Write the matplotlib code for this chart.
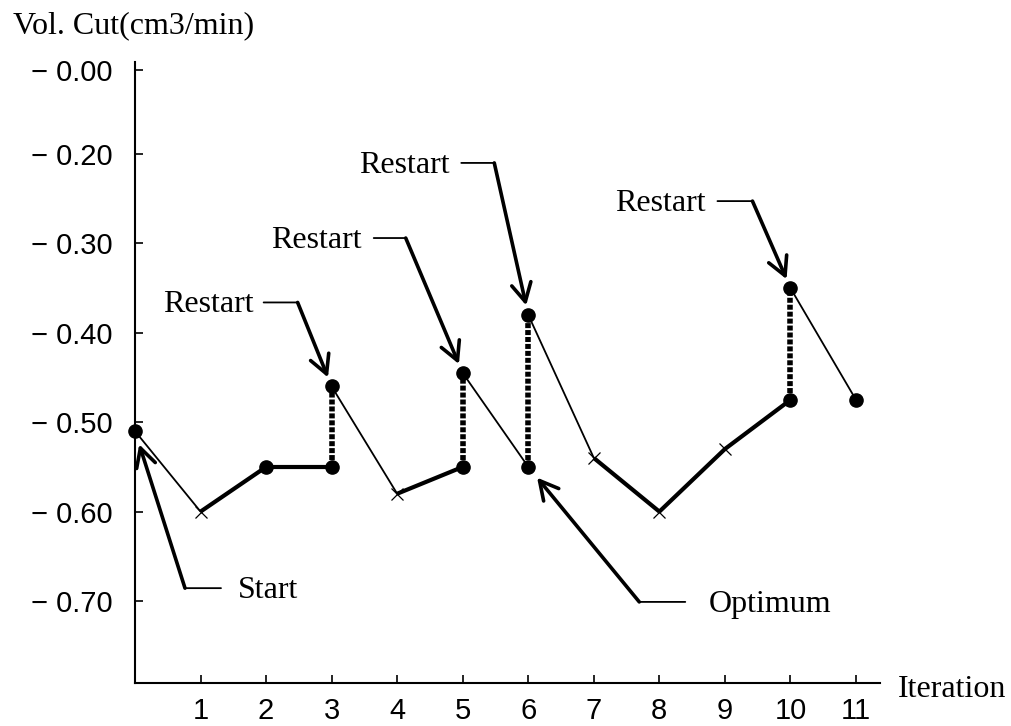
import matplotlib
matplotlib.use("Agg")
import matplotlib.pyplot as plt
import matplotlib.transforms as mtransforms

# ---------------- data ----------------
iterations = [0, 1, 2, 3, 3, 4, 5, 5, 6, 6, 7, 8, 9, 10, 10, 11]
vol_cut = [-0.51, -0.60, -0.55, -0.55, -0.46, -0.58, -0.55, -0.445,
           -0.55, -0.38, -0.54, -0.60, -0.53, -0.475, -0.35, -0.475]
point_kind = ['dot', 'cross', 'dot', 'dot', 'dot', 'cross', 'dot', 'dot',
              'dot', 'dot', 'cross', 'cross', 'cross', 'dot', 'dot', 'dot']
# step between consecutive points: search (thin), move (thick), restart (dotted jump)
step_kind = ['search', 'move', 'move', 'restart', 'search', 'move', 'restart',
             'search', 'restart', 'search', 'move', 'move', 'move', 'restart', 'search']

x_ticks = list(range(1, 12))
y_tick_values = [-0.106, -0.20, -0.30, -0.40, -0.50, -0.60, -0.70]
y_tick_labels = ['\u2212 0.00', '\u2212 0.20', '\u2212 0.30', '\u2212 0.40',
                 '\u2212 0.50', '\u2212 0.60', '\u2212 0.70']

# annotations: label, index of target point
annot_labels = ['Restart', 'Restart', 'Restart', 'Restart', 'Start', 'Optimum']
annot_targets = [4, 7, 9, 14, 0, 8]

# ---------------- figure ----------------
fig = plt.figure(figsize=(10.12, 7.26), dpi=100)
ax = fig.add_axes([135 / 1012, 1 - 683 / 726, (880 - 135) / 1012, (683 - 62) / 726])
ax.set_xlim(0, 11.366)
ax.set_ylim(-0.7917, -0.0971)

for s in ['top', 'right']:
    ax.spines[s].set_visible(False)
for s in ['left', 'bottom']:
    ax.spines[s].set_linewidth(1.5)

sans = ['Liberation Sans', 'DejaVu Sans']
serif = ['Liberation Serif', 'DejaVu Serif']

ax.set_xticks(x_ticks)
ax.set_xticklabels([str(t) for t in x_ticks], fontfamily=sans, fontsize=21)
ax.set_yticks(y_tick_values)
ax.set_yticklabels(y_tick_labels, fontfamily=sans, fontsize=21)
ax.tick_params(axis='x', direction='in', length=6, width=1.2, pad=10, colors='black')
ax.tick_params(axis='y', direction='in', length=6, width=1.2, pad=16, colors='black')

style = {
    'search': dict(color='black', lw=1.3, ls='-'),
    'move': dict(color='black', lw=3.0, ls='-'),
    'restart': dict(color='black', lw=4.0, ls=(0, (0.9, 0.35))),
}
for i, kind in enumerate(step_kind):
    ax.plot(iterations[i:i + 2], vol_cut[i:i + 2], solid_capstyle='butt',
            dash_capstyle='butt', zorder=2, clip_on=False, **style[kind])

dx_ = [x for x, k in zip(iterations, point_kind) if k == 'dot']
dy_ = [y for y, k in zip(vol_cut, point_kind) if k == 'dot']
cx_ = [x for x, k in zip(iterations, point_kind) if k == 'cross']
cy_ = [y for y, k in zip(vol_cut, point_kind) if k == 'cross']
ax.plot(dx_, dy_, 'o', color='black', ms=9.5, zorder=3, clip_on=False)
ax.plot(cx_, cy_, 'x', color='black', ms=9, mew=0.9, zorder=3, clip_on=False)

# leader geometry in pixels (knee offset, horizontal length, text gap, arrow shrink)
knee = [(-34, 84), (-57, 135), (-34, 152), (-38, 87), (50, -157), (111, -135)]
hlen = [-34, -32, -33, -35, 36, 46]
tgap = [-10, -12, -12, -12, 17, 23]
shrink = [7, 7, 7, 7, 10, 10]

for lab, idx, (kx, ky), hl, tg, sb in zip(annot_labels, annot_targets, knee, hlen, tgap, shrink):
    xy = (iterations[idx], vol_cut[idx])
    ax.annotate('', xy=xy, xycoords='data', xytext=(kx, ky), textcoords='offset pixels',
                arrowprops=dict(arrowstyle='->,head_length=0.6,head_width=0.32',
                                lw=2.6, color='black', shrinkA=0, shrinkB=sb,
                                mutation_scale=22),
                annotation_clip=False, zorder=4)
    t1 = mtransforms.offset_copy(ax.transData, fig=fig, x=kx, y=ky, units='dots')
    t2 = mtransforms.offset_copy(ax.transData, fig=fig, x=kx + hl, y=ky, units='dots')
    ax.annotate('', xy=xy, xycoords=t1, xytext=xy, textcoords=t2,
                arrowprops=dict(arrowstyle='-', lw=1.3, color='black', shrinkA=0, shrinkB=0),
                annotation_clip=False)
    ha = 'right' if hl < 0 else 'left'
    ax.annotate(lab, xy=xy, xycoords='data', xytext=(kx + hl + tg, ky - 10),
                textcoords='offset pixels', ha=ha, va='baseline',
                fontfamily=serif, fontsize=23, annotation_clip=False)

fig.text(13 / 1012, 1 - 33 / 726, 'Vol. Cut(cm3/min)', fontfamily=serif, fontsize=23,
         ha='left', va='baseline')
fig.text(898 / 1012, 1 - 697 / 726, 'Iteration', fontfamily=serif, fontsize=23,
         ha='left', va='baseline')

fig.savefig('out.png', dpi=100)
